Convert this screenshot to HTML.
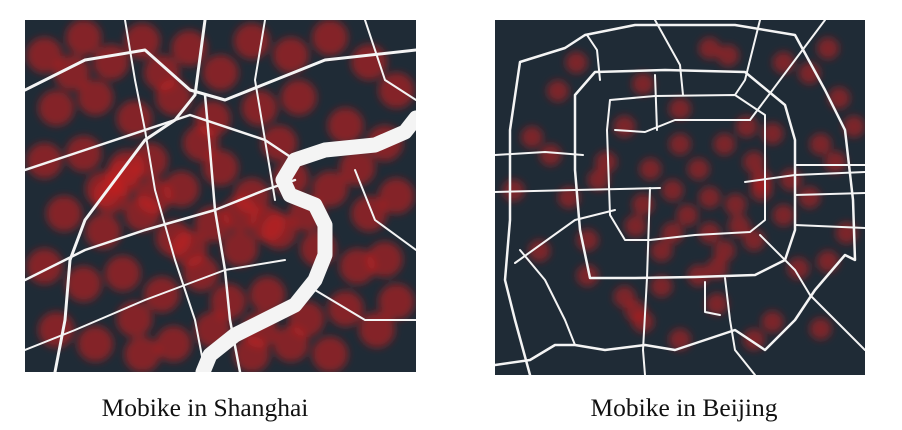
<!DOCTYPE html>
<html><head><meta charset="utf-8"><style>
html,body{margin:0;padding:0;background:#fff;width:902px;height:430px;overflow:hidden}
svg{display:block}
.cap{font-family:"Liberation Serif",serif;font-size:25.5px;fill:#111}
.rd{fill:none;stroke:#f4f4f4;stroke-linecap:round;stroke-linejoin:round}
</style></head><body>
<svg id="svg" width="902" height="430">
<defs>
<filter id="blur" x="-50%" y="-50%" width="200%" height="200%"><feGaussianBlur stdDeviation="4"/></filter>
<clipPath id="cl"><rect x="0" y="0" width="391" height="352"/></clipPath>
<clipPath id="cr"><rect x="0" y="0" width="370" height="355"/></clipPath>
</defs>
<g transform="translate(25,20)" clip-path="url(#cl)">
<rect width="391" height="352" fill="#1f2b36"/>
<g id="dotsL" filter="url(#blur)"></g>
<g>
<path class="rd" stroke-width="3" d="M0,70 L60,40 L120,30 L165,70 L200,80 L250,60 L300,40 L391,30"/>
<path class="rd" stroke-width="2.5" d="M0,150 L60,130 L120,110 L165,95 L240,120 L270,140"/>
<path class="rd" stroke-width="3" d="M30,352 L40,300 L45,240 L60,200 L90,160 L120,120 L150,100 L170,75 L180,0"/>
<path class="rd" stroke-width="2.5" d="M0,260 L60,230 L120,210 L190,190 L240,170 L270,160"/>
<path class="rd" stroke-width="2.5" d="M180,75 L185,130 L190,190 L200,250 L205,300 L215,352"/>
<path class="rd" stroke-width="2" d="M100,0 L110,60 L120,110 L130,170 L150,240 L170,300 L180,352"/>
<path class="rd" stroke-width="2" d="M0,330 L50,310 L120,280 L200,250 L260,240"/>
<path class="rd" stroke-width="2" d="M240,0 L230,60 L240,120 L250,180"/>
<path class="rd" stroke-width="2" d="M330,150 L350,200 L391,230"/>
<path class="rd" stroke-width="2" d="M290,270 L340,300 L391,300"/>
<path class="rd" stroke-width="2" d="M340,0 L360,60 L391,80"/>
<path class="rd" stroke-width="15" stroke-linecap="butt" d="M391,98 L380,112 L350,125 L300,130 L270,140 L258,160 L265,175 L290,185 L300,205 L300,235 L290,260 L270,285 L240,300 L210,315 L185,335 L178,352"/>
</g></g>
<g transform="translate(495,20)" clip-path="url(#cr)">
<rect width="370" height="355" fill="#1f2b36"/>
<g id="dotsR" filter="url(#blur)"></g>
<g>
<path class="rd" stroke-width="2.5" d="M35,355 L20,300 L10,260 L15,200 L15,110 L25,42 L70,28 L90,15 L140,5 L240,5 L300,15 L330,70 L350,110 L358,180 L360,240 L350,235 L320,270 L300,300 L270,330 L240,310 L210,320 L180,330 L150,325 L110,330 L80,325 L60,325 L35,340 L0,345"/>
<path class="rd" stroke-width="2.5" d="M100,52 L170,50 L250,52 L290,85 L300,120 L300,210 L290,240 L260,255 L200,257 L140,258 L95,258 L85,210 L80,150 L80,75 Z"/>
<path class="rd" stroke-width="2" d="M115,80 L160,76 L240,75 L270,95 L270,200 L255,212 L200,215 L155,220 L130,220 L115,195 L112,110 Z"/>
<path class="rd" stroke-width="2" d="M120,110 L150,112 L180,100 L255,100"/>
<path class="rd" stroke-width="2" d="M0,135 L50,132 L88,135"/>
<path class="rd" stroke-width="2" d="M0,172 L80,170 L165,168"/>
<path class="rd" stroke-width="2" d="M300,145 L370,145"/>
<path class="rd" stroke-width="2" d="M250,162 L300,155 L370,152"/>
<path class="rd" stroke-width="2" d="M300,175 L370,173"/>
<path class="rd" stroke-width="2" d="M300,205 L370,208"/>
<path class="rd" stroke-width="2" d="M155,168 L152,258 L148,330 L150,355"/>
<path class="rd" stroke-width="2" d="M160,55 L162,110"/>
<path class="rd" stroke-width="2" d="M160,0 L185,45 L188,75"/>
<path class="rd" stroke-width="2" d="M265,0 L250,60 L240,75"/>
<path class="rd" stroke-width="2" d="M330,0 L300,40 L255,100"/>
<path class="rd" stroke-width="2" d="M20,243 L80,200 L120,190"/>
<path class="rd" stroke-width="2" d="M25,230 L50,260 L70,300 L80,325"/>
<path class="rd" stroke-width="2" d="M265,215 L300,250 L315,275 L340,300 L370,330"/>
<path class="rd" stroke-width="2" d="M230,258 L235,300 L240,330 L260,355"/>
<path class="rd" stroke-width="2" d="M210,262 L210,292 L225,295"/>
<path class="rd" stroke-width="2" d="M92,15 L102,30 L105,60"/>
</g></g>
<text class="cap" x="205" y="416" text-anchor="middle">Mobike in Shanghai</text>
<text class="cap" x="684" y="416" text-anchor="middle">Mobike in Beijing</text>
</svg>
<script>
const shanghaiX=[5,15,22,30,42,50,58,68,78,88,95,8,18,28,38,48,60,70,82,92,5,15,25,32,40,50,58,68,78,88,95,10,20,30,38,48,55,65,75,85,92,5,15,25,35,45,52,62,72,82,90,8,18,28,38,48,58,68,78,95,12,35,65,45,22,60,30,85,72,42,26,33,55,20,62];
const shanghaiY=[10,5,12,6,8,15,6,10,5,12,20,25,22,28,22,28,25,22,30,35,40,38,45,40,48,42,50,45,48,55,50,55,60,55,62,58,65,60,65,70,68,70,75,72,78,72,80,78,85,82,88,88,92,85,92,88,95,92,95,80,15,15,35,35,50,88,95,42,55,65,42,50,55,48,58];
const beijingX=[17,22,40,50,58,63,68,75,78,85,90,93,97,10,15,30,35,42,50,55,62,70,72,80,88,92,5,20,28,40,48,58,65,72,78,85,95,12,25,38,45,52,58,62,66,70,82,90,35,38,40,45,55,60,88,25,60,75,70,48,50];
const beijingY=[20,12,18,25,8,10,30,32,12,15,8,22,30,33,38,40,30,42,35,42,35,40,48,45,35,40,48,50,45,52,48,50,52,45,55,50,60,65,62,58,65,55,60,65,58,62,70,68,78,82,85,75,72,70,87,72,80,85,90,60,90];
function sc(x,y,w,h){return [x/100*w,y/100*h];}
function draw(id,xs,ys,w,h,r,name,col){const g=document.getElementById(id);
for(let i=0;i<xs.length;i++){const p=sc(xs[i],ys[i],w,h);
const c=document.createElementNS('http://www.w3.org/2000/svg','circle');
c.setAttribute('cx',p[0]);c.setAttribute('cy',p[1]);c.setAttribute('r',r);
c.setAttribute('fill',col);


g.appendChild(c);}}
draw('dotsL',shanghaiX,shanghaiY,391,352,18,'shanghai-bike-cluster','rgba(200,30,30,0.6)');
draw('dotsR',beijingX,beijingY,370,355,11,'beijing-bike-cluster','rgba(200,30,30,0.55)');
</script>
</body></html>
